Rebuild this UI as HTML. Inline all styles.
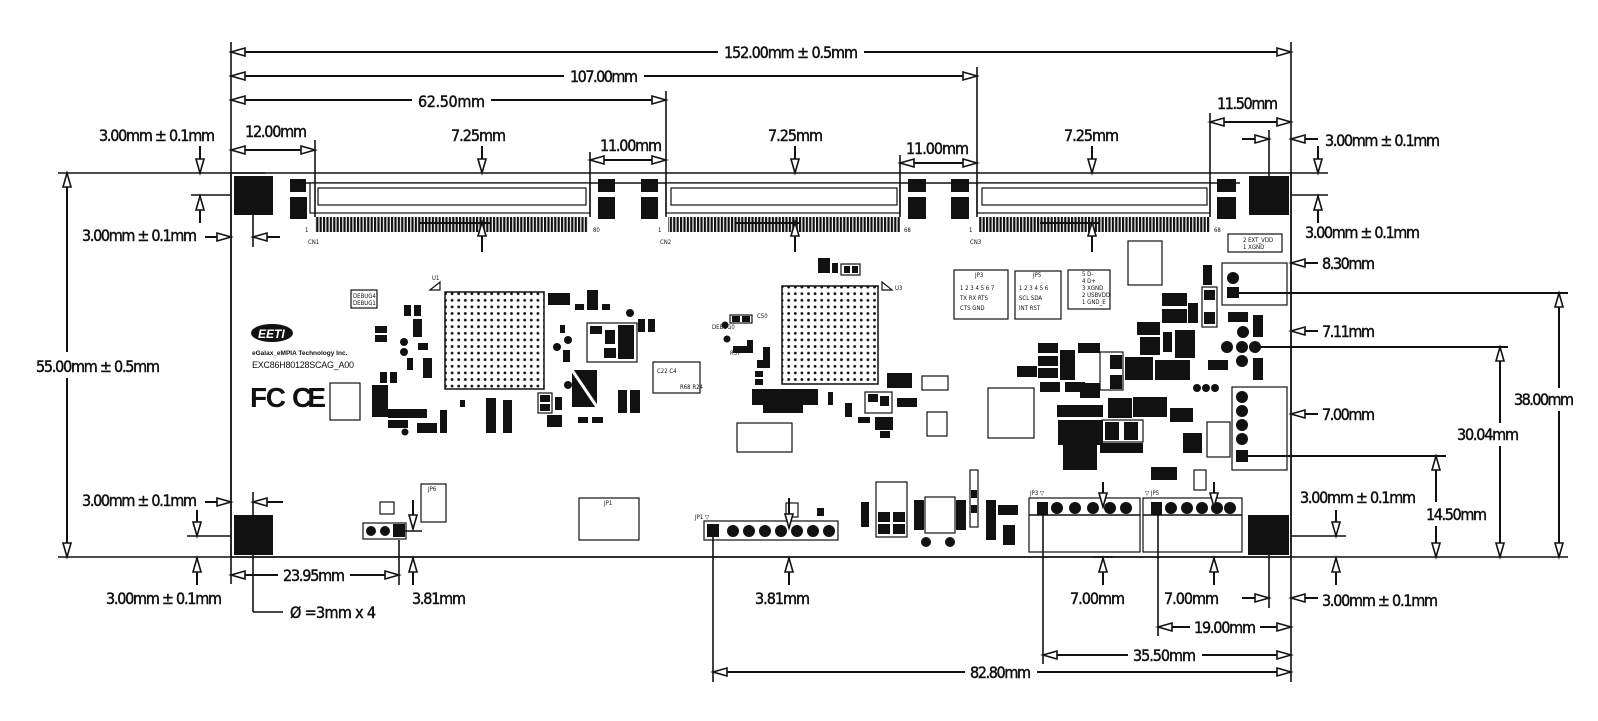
<!DOCTYPE html>
<html><head><meta charset="utf-8"><style>
html,body{margin:0;padding:0;background:#fff;}
svg{display:block;}
.d{font-family:"DejaVu Sans Condensed","Liberation Sans",sans-serif;font-size:16px;fill:#111;stroke:#111;stroke-width:0.45;}
.s{font-family:"DejaVu Sans Condensed","Liberation Sans",sans-serif;font-size:6px;fill:#111;}
.ln{stroke:#111;stroke-width:2;fill:none;}
.ex{stroke:#111;stroke-width:1.6;fill:none;}
.o{stroke:#111;stroke-width:1.2;fill:#fff;}
.ob{stroke:#111;stroke-width:1.2;fill:none;}
.a{marker-end:url(#ar);}
.aa{marker-start:url(#ar);marker-end:url(#ar);}
.as{marker-start:url(#ar);}
</style></head><body>
<svg width="1598" height="721" viewBox="0 0 1598 721" xmlns="http://www.w3.org/2000/svg">
<defs>
<marker id="ar" markerUnits="userSpaceOnUse" markerWidth="16" markerHeight="10" refX="15" refY="5" orient="auto-start-reverse" overflow="visible">
<path d="M1,1 L15,5 L1,9 Z" fill="#fff" stroke="#111" stroke-width="1.6"/>
</marker>
<pattern id="bga" width="6.6" height="6.6" patternUnits="userSpaceOnUse"><circle cx="3.3" cy="3.3" r="1.4" fill="#111"/></pattern>
<pattern id="comb" width="3.4" height="20" patternUnits="userSpaceOnUse"><rect x="0" y="0" width="2.2" height="20" fill="#111"/></pattern>
</defs>
<rect width="1598" height="721" fill="#fff"/>

<rect x="231" y="173" width="1060" height="384" fill="none" stroke="#111" stroke-width="1.5"/>
<line class="ex" x1="231" y1="42" x2="231" y2="584"/>
<line class="ex" x1="1291" y1="42" x2="1291" y2="682"/>
<line class="ex" x1="58" y1="173" x2="265" y2="173"/>
<line class="ex" x1="58" y1="557" x2="1568" y2="557"/>

<rect x="234" y="176" width="39" height="39" fill="#111"/>
<rect x="1249" y="176" width="40" height="39" fill="#111"/>
<rect x="234" y="515" width="39" height="40" fill="#111"/>
<rect x="1248" y="515" width="41" height="40" fill="#111"/>

<g>
<line class="ex" x1="290" y1="183" x2="1240" y2="183" stroke-width="1"/>
<rect x="310" y="183" width="280" height="30" class="o"/>
<rect x="318" y="188" width="268" height="17" class="o"/>
<rect x="315" y="217" width="273" height="15" fill="url(#comb)"/>
<rect x="666" y="183" width="234" height="30" class="o"/>
<rect x="671" y="188" width="226" height="17" class="o"/>
<rect x="668" y="217" width="232" height="15" fill="url(#comb)"/>
<rect x="977" y="183" width="233" height="30" class="o"/>
<rect x="982" y="188" width="225" height="17" class="o"/>
<rect x="979" y="217" width="231" height="15" fill="url(#comb)"/>
<line x1="420" y1="223" x2="490" y2="223" stroke="#111" stroke-width="2"/>
<line x1="735" y1="223" x2="800" y2="223" stroke="#111" stroke-width="2"/>
<line x1="1040" y1="223" x2="1100" y2="223" stroke="#111" stroke-width="2"/>
<rect x="290" y="179" width="16" height="13" fill="#111"/><rect x="290" y="197" width="17" height="22" fill="#111"/>
<rect x="598" y="179" width="17" height="13" fill="#111"/><rect x="598" y="197" width="17" height="22" fill="#111"/>
<rect x="641" y="179" width="17" height="13" fill="#111"/><rect x="641" y="197" width="17" height="22" fill="#111"/>
<rect x="908" y="179" width="18" height="13" fill="#111"/><rect x="908" y="197" width="18" height="22" fill="#111"/>
<rect x="951" y="179" width="18" height="13" fill="#111"/><rect x="951" y="197" width="18" height="22" fill="#111"/>
<rect x="1217" y="179" width="19" height="13" fill="#111"/><rect x="1217" y="197" width="19" height="22" fill="#111"/>
<text class="s" x="305" y="232">1</text><text class="s" x="593" y="232">80</text><text class="s" x="308" y="244">CN1</text>
<text class="s" x="658" y="232">1</text><text class="s" x="904" y="232">68</text><text class="s" x="660" y="244">CN2</text>
<text class="s" x="969" y="232">1</text><text class="s" x="1214" y="232">68</text><text class="s" x="970" y="244">CN3</text>
</g>

<rect x="445" y="292" width="99" height="97" fill="url(#bga)" stroke="#111" stroke-width="1.5"/>
<rect x="782" y="286" width="96" height="98" fill="url(#bga)" stroke="#111" stroke-width="1.5"/>
<path d="M430,290 L440,282 L440,290 Z" class="ob"/>
<path d="M882,282 L892,290 L882,290 Z" class="ob"/>
<text class="s" x="432" y="280">U1</text><text class="s" x="895" y="290">U3</text>

<ellipse cx="272" cy="333" rx="21" ry="9" fill="#111"/>
<text x="258" y="338" font-family="Liberation Sans" font-weight="bold" font-style="italic" font-size="12" fill="#fff">EETI</text>
<text x="252" y="355" font-family="Liberation Sans" font-weight="bold" font-size="6.5" fill="#111">eGalax_eMPIA Technology Inc.</text>
<text x="252" y="368" font-family="Liberation Sans" font-size="9" fill="#111" textLength="102">EXC86H80128SCAG_A00</text>
<text x="250" y="407" font-family="Liberation Sans" font-weight="bold" font-size="28" fill="#111" textLength="36">FC</text>
<text x="292" y="407" font-family="Liberation Sans" font-weight="bold" font-size="28" fill="#111" textLength="34">CE</text>

<g fill="#111">
<rect x="351" y="290" width="26" height="18" class="o"/>
<text class="s" x="353" y="298">DEBUG4</text><text class="s" x="353" y="305">DEBUG1</text>
<rect x="404" y="305" width="7" height="11"/><rect x="414" y="305" width="7" height="11"/>
<rect x="413" y="319" width="9" height="18"/>
<rect x="375" y="326" width="12" height="7"/><rect x="375" y="335" width="12" height="7"/>
<circle cx="404" cy="342" r="4"/><circle cx="404" cy="352" r="4"/>
<rect x="407" y="358" width="6" height="12"/><rect x="423" y="358" width="9" height="20"/>
<rect x="418" y="343" width="10" height="7"/>
<rect x="380" y="372" width="7" height="11"/><rect x="390" y="372" width="7" height="11"/>
<rect x="372" y="385" width="16" height="32"/>
<rect x="388" y="409" width="39" height="9"/><rect x="388" y="420" width="20" height="8"/>
<circle cx="405" cy="432" r="3.5"/>
<rect x="417" y="423" width="20" height="10"/><rect x="440" y="410" width="7" height="23"/>
<rect x="460" y="400" width="5" height="7"/>
<rect x="330" y="383" width="30" height="37" class="ob"/>
<rect x="486" y="398" width="10" height="35"/><rect x="503" y="400" width="9" height="33"/>
<rect x="538" y="393" width="14" height="20" class="o"/><rect x="540" y="395" width="10" height="7"/><rect x="540" y="404" width="10" height="7"/>
<rect x="547" y="415" width="15" height="12"/><rect x="555" y="397" width="7" height="13"/>
<rect x="572" y="370" width="25" height="37"/><path d="M572,370 L597,407" stroke="#fff" stroke-width="3"/>
<circle cx="568" cy="385" r="4"/>
<rect x="578" y="417" width="10" height="6"/><rect x="592" y="417" width="11" height="6"/>
<rect x="618" y="390" width="9" height="23"/><rect x="630" y="390" width="10" height="23"/>
<rect x="548" y="293" width="22" height="12"/>
<rect x="587" y="290" width="11" height="20"/>
<rect x="575" y="304" width="9" height="6"/><rect x="602" y="304" width="8" height="6"/>
<rect x="638" y="319" width="7" height="13"/><rect x="648" y="319" width="7" height="13"/>
<rect x="587" y="323" width="50" height="39" class="o"/>
<rect x="590" y="326" width="12" height="8"/><rect x="605" y="330" width="10" height="14"/><rect x="618" y="325" width="16" height="34"/><rect x="604" y="348" width="12" height="10"/>
<circle cx="630" cy="313" r="4"/><circle cx="568" cy="340" r="4"/><circle cx="557" cy="347" r="4"/>
<rect x="560" y="325" width="5" height="8"/><rect x="563" y="350" width="7" height="12"/>
<rect x="653" y="362" width="47" height="31" class="ob"/>
<text class="s" x="657" y="373">C22 C4</text><text class="s" x="680" y="389">R68 R24</text>
</g>

<g fill="#111">
<rect x="818" y="258" width="12" height="15"/><rect x="832" y="263" width="6" height="10"/>
<rect x="841" y="264" width="19" height="11" class="o"/><rect x="844" y="266" width="6" height="7"/><rect x="852" y="266" width="6" height="7"/>
<rect x="730" y="315" width="22" height="8" class="o"/><rect x="732" y="316" width="8" height="6"/><rect x="742" y="316" width="8" height="6"/>
<circle cx="725" cy="325" r="3.5"/><circle cx="727" cy="339" r="3.5"/>
<rect x="733" y="346" width="14" height="7"/><rect x="747" y="340" width="6" height="13"/>
<rect x="763" y="347" width="7" height="21"/><rect x="757" y="360" width="8" height="8"/>
<rect x="755" y="371" width="8" height="6"/><rect x="755" y="379" width="8" height="6"/>
<rect x="752" y="389" width="66" height="16"/>
<rect x="763" y="405" width="40" height="8"/>
<rect x="737" y="423" width="55" height="29" class="ob"/>
<rect x="828" y="392" width="5" height="13"/><rect x="845" y="403" width="7" height="14"/>
<rect x="887" y="373" width="25" height="15"/><rect x="922" y="376" width="26" height="14" class="ob"/>
<rect x="865" y="392" width="27" height="21" class="ob"/><rect x="868" y="394" width="10" height="8"/><rect x="880" y="396" width="9" height="10"/>
<rect x="897" y="398" width="20" height="9"/>
<rect x="858" y="417" width="12" height="6"/><rect x="875" y="417" width="18" height="13"/><rect x="880" y="431" width="10" height="7"/>
<rect x="927" y="412" width="20" height="24" class="ob"/>
<text class="s" x="730" y="355">R57</text><text class="s" x="757" y="318">C50</text><text class="s" x="712" y="329">DEBUG0</text>
</g>

<g fill="#111">
<rect x="954" y="270" width="54" height="49" class="ob"/><text class="s" x="975" y="277">JP3</text>
<text class="s" x="960" y="290">1 2 3 4 5 6 7</text><text class="s" x="960" y="300">TX RX RTS</text><text class="s" x="960" y="310">CTS GND</text>
<rect x="1015" y="271" width="46" height="48" class="ob"/><text class="s" x="1033" y="277">JP5</text>
<text class="s" x="1019" y="290">1 2 3 4 5 6</text><text class="s" x="1019" y="300">SCL SDA</text><text class="s" x="1019" y="310">INT RST</text>
<rect x="1068" y="270" width="42" height="39" class="ob"/>
<text class="s" x="1082" y="276">5 D-</text><text class="s" x="1082" y="283">4 D+</text><text class="s" x="1082" y="290">3 XGND</text><text class="s" x="1082" y="297">2 USBVDD</text><text class="s" x="1082" y="304">1 GND_E</text>
<rect x="1128" y="241" width="34" height="44" class="ob"/>
<rect x="1228" y="234" width="54" height="18" class="o"/><text class="s" x="1243" y="242">2 EXT_VDD</text><text class="s" x="1243" y="249">1 XGND</text>
<rect x="1222" y="263" width="65" height="42" class="ob"/>
<circle cx="1233" cy="278" r="6"/><rect x="1227" y="287" width="12" height="11"/>
<line class="ln" x1="1238" y1="293" x2="1568" y2="293"/>
<rect x="1162" y="293" width="25" height="13"/><rect x="1162" y="309" width="25" height="14"/>
<rect x="1188" y="303" width="10" height="20"/>
<rect x="1202" y="287" width="15" height="40" class="ob"/><rect x="1204" y="290" width="11" height="10"/><rect x="1204" y="312" width="11" height="12"/>
<rect x="1203" y="265" width="9" height="20"/>
<rect x="1137" y="322" width="23" height="13"/><rect x="1140" y="337" width="20" height="18"/>
<rect x="1163" y="332" width="9" height="20"/><rect x="1175" y="330" width="20" height="28"/>
<circle cx="1243" cy="332" r="6"/><circle cx="1227" cy="347" r="6"/><circle cx="1242" cy="347" r="6"/><circle cx="1255" cy="347" r="6"/><circle cx="1242" cy="361" r="6"/>
<rect x="1228" y="312" width="20" height="10"/><rect x="1253" y="315" width="10" height="22"/><rect x="1253" y="358" width="10" height="22"/>
<rect x="1208" y="360" width="20" height="10"/>
<rect x="1017" y="366" width="20" height="11"/>
<rect x="1038" y="343" width="20" height="10"/><rect x="1038" y="356" width="20" height="10"/><rect x="1038" y="368" width="20" height="10"/>
<rect x="1060" y="350" width="15" height="30"/><rect x="1078" y="343" width="22" height="10"/>
<rect x="1040" y="382" width="20" height="10"/><rect x="1065" y="382" width="20" height="10"/>
<rect x="1080" y="383" width="20" height="15"/>
<rect x="1100" y="352" width="23" height="38" class="ob"/><rect x="1110" y="355" width="12" height="14"/><rect x="1110" y="375" width="12" height="14"/>
<rect x="1125" y="357" width="28" height="23"/><rect x="1155" y="360" width="35" height="20"/>
<rect x="1057" y="405" width="46" height="12"/>
<rect x="1058" y="420" width="45" height="25"/>
<rect x="1108" y="398" width="24" height="20"/><rect x="1133" y="397" width="34" height="20"/>
<rect x="1102" y="420" width="41" height="22" class="ob"/><rect x="1105" y="422" width="14" height="18"/><rect x="1124" y="422" width="14" height="18"/>
<rect x="1063" y="443" width="34" height="27"/><rect x="1100" y="443" width="43" height="10"/>
<circle cx="1197" cy="388" r="4"/><circle cx="1206" cy="388" r="4"/><circle cx="1215" cy="388" r="4"/>
<rect x="1170" y="408" width="23" height="14"/><rect x="1183" y="433" width="19" height="20"/>
<rect x="1151" y="467" width="26" height="13"/>
<rect x="1194" y="470" width="12" height="20" class="ob"/>
<rect x="988" y="388" width="46" height="50" class="ob"/>
<rect x="1232" y="387" width="55" height="83" class="ob"/>
<circle cx="1242" cy="397" r="6"/><circle cx="1242" cy="411" r="6"/><circle cx="1242" cy="425" r="6"/><circle cx="1242" cy="439" r="6"/>
<rect x="1236" y="450" width="12" height="12"/>
<rect x="1207" y="422" width="23" height="35" class="ob"/>
<line class="ln" x1="1250" y1="347" x2="1508" y2="347"/>
<line class="ln" x1="1248" y1="456" x2="1446" y2="456"/>
</g>

<g fill="#111">
<rect x="363" y="523" width="43" height="16" class="ob"/>
<circle cx="371" cy="531" r="5"/><circle cx="385" cy="531" r="5"/><rect x="393" y="524" width="12" height="13"/>
<rect x="380" y="502" width="14" height="12" class="ob"/>
<rect x="421" y="484" width="25" height="38" class="ob"/><text class="s" x="428" y="491">JP6</text>
<rect x="579" y="498" width="60" height="42" class="ob"/><text class="s" x="604" y="505">JP1</text>
<rect x="704" y="521" width="134" height="19" class="ob"/>
<rect x="707" y="524" width="12" height="13"/>
<circle cx="733" cy="531" r="6"/><circle cx="749" cy="531" r="6"/><circle cx="765" cy="531" r="6"/><circle cx="781" cy="531" r="6"/><circle cx="797" cy="531" r="6"/><circle cx="813" cy="531" r="6"/><circle cx="829" cy="531" r="6"/>
<rect x="786" y="503" width="12" height="14" class="ob"/>
<rect x="817" y="508" width="7" height="8"/>
<rect x="876" y="482" width="31" height="55" class="ob"/>
<rect x="878" y="512" width="12" height="10"/><rect x="893" y="512" width="12" height="10"/><rect x="878" y="524" width="12" height="10"/><rect x="893" y="524" width="12" height="10"/>
<rect x="861" y="502" width="8" height="25"/>
<rect x="925" y="497" width="30" height="36" class="ob"/>
<rect x="914" y="500" width="10" height="30"/><rect x="956" y="500" width="10" height="30"/>
<circle cx="926" cy="542" r="5"/><circle cx="950" cy="542" r="5"/>
<rect x="970" y="470" width="8" height="57" class="ob"/><rect x="971" y="490" width="6" height="8"/><rect x="971" y="505" width="6" height="8"/>
<rect x="986" y="500" width="10" height="40"/><rect x="998" y="505" width="20" height="10"/><rect x="1003" y="525" width="12" height="20"/>
<rect x="1029" y="498" width="111" height="54" class="ob"/>
<line class="ex" x1="1029" y1="515" x2="1140" y2="515" stroke-width="1"/>
<rect x="1037" y="502" width="11" height="13"/>
<circle cx="1057" cy="508" r="6"/><circle cx="1075" cy="508" r="6"/><circle cx="1093" cy="508" r="6"/><circle cx="1110" cy="508" r="6"/><circle cx="1126" cy="508" r="6"/>
<rect x="1143" y="498" width="99" height="54" class="ob"/>
<line class="ex" x1="1143" y1="515" x2="1242" y2="515" stroke-width="1"/>
<rect x="1151" y="502" width="11" height="13"/>
<circle cx="1171" cy="508" r="6"/><circle cx="1187" cy="508" r="6"/><circle cx="1202" cy="508" r="6"/><circle cx="1217" cy="508" r="6"/><circle cx="1230" cy="508" r="6"/>
<text class="s" x="1030" y="495">JP3 ▽</text><text class="s" x="1145" y="495">▽ JP5</text><text class="s" x="695" y="519">JP1 ▽</text>
</g>

<g>
<line class="ln as" x1="231" y1="52" x2="718" y2="52"/><line class="ln a" x1="864" y1="52" x2="1291" y2="52"/>
<text class="d" x="724" y="58" textLength="134">152.00mm ± 0.5mm</text>
<line class="ex" x1="977" y1="67" x2="977" y2="217"/>
<line class="ln as" x1="231" y1="76" x2="564" y2="76"/><line class="ln a" x1="644" y1="76" x2="977" y2="76"/>
<text class="d" x="570" y="82" textLength="68">107.00mm</text>
<line class="ex" x1="666" y1="91" x2="666" y2="217"/>
<line class="ln as" x1="231" y1="100" x2="412" y2="100"/><line class="ln a" x1="491" y1="100" x2="666" y2="100"/>
<text class="d" x="418" y="107" textLength="67">62.50mm</text>
<line class="ex" x1="315" y1="140" x2="315" y2="217"/>
<line class="ln aa" x1="231" y1="150" x2="315" y2="150"/>
<text class="d" x="245" y="137" textLength="62">12.00mm</text>
<line class="ex" x1="590" y1="152" x2="590" y2="217"/>
<line class="ln aa" x1="590" y1="160" x2="666" y2="160"/>
<text class="d" x="600" y="151" textLength="62">11.00mm</text>
<line class="ex" x1="900" y1="155" x2="900" y2="217"/>
<line class="ln aa" x1="900" y1="163" x2="977" y2="163"/>
<text class="d" x="906" y="154" textLength="63">11.00mm</text>
<line class="ex" x1="1210" y1="113" x2="1210" y2="217"/>
<line class="ln aa" x1="1210" y1="122" x2="1291" y2="122"/>
<text class="d" x="1217" y="109" textLength="61">11.50mm</text>
<text class="d" x="451" y="141" textLength="55">7.25mm</text>
<text class="d" x="768" y="141" textLength="55">7.25mm</text>
<text class="d" x="1064" y="141" textLength="55">7.25mm</text>
<line class="ln a" x1="482" y1="146" x2="482" y2="173"/><line class="ln a" x1="795" y1="146" x2="795" y2="173"/><line class="ln a" x1="1092" y1="146" x2="1092" y2="173"/>
<line class="ln a" x1="482" y1="252" x2="482" y2="222"/><line class="ln a" x1="795" y1="252" x2="795" y2="222"/><line class="ln a" x1="1092" y1="252" x2="1092" y2="222"/>
<text class="d" x="99" y="141" textLength="116">3.00mm ± 0.1mm</text>
<line class="ln a" x1="200" y1="146" x2="200" y2="173"/>
<line class="ex" x1="191" y1="195" x2="231" y2="195"/>
<line class="ln a" x1="200" y1="223" x2="200" y2="196"/>
<text class="d" x="82" y="241" textLength="115">3.00mm ± 0.1mm</text>
<line class="ln a" x1="205" y1="237" x2="231" y2="237"/>
<line class="ln a" x1="280" y1="237" x2="253" y2="237"/>
<line class="ex" x1="253" y1="215" x2="253" y2="247"/>
<line class="ex" x1="1269" y1="130" x2="1269" y2="176"/>
<line class="ln a" x1="1242" y1="139" x2="1269" y2="139"/>
<line class="ln a" x1="1318" y1="139" x2="1291" y2="139"/>
<text class="d" x="1325" y="146" textLength="115">3.00mm ± 0.1mm</text>
<line class="ln a" x1="1318" y1="146" x2="1318" y2="173"/>
<line class="ex" x1="1291" y1="173" x2="1328" y2="173"/>
<line class="ex" x1="1291" y1="195" x2="1328" y2="195"/>
<line class="ln a" x1="1318" y1="223" x2="1318" y2="196"/>
<text class="d" x="1305" y="238" textLength="115">3.00mm ± 0.1mm</text>
<line class="ln a" x1="1318" y1="263" x2="1291" y2="263"/><text class="d" x="1322" y="269" textLength="53">8.30mm</text>
<line class="ln a" x1="1318" y1="331" x2="1291" y2="331"/><text class="d" x="1322" y="337" textLength="53">7.11mm</text>
<line class="ln a" x1="1318" y1="414" x2="1291" y2="414"/><text class="d" x="1322" y="420" textLength="53">7.00mm</text>
<line class="ln as" x1="1559" y1="293" x2="1559" y2="388"/><line class="ln a" x1="1559" y1="411" x2="1559" y2="557"/>
<text class="d" x="1514" y="405" textLength="60">38.00mm</text>
<line class="ln as" x1="1500" y1="347" x2="1500" y2="423"/><line class="ln a" x1="1500" y1="446" x2="1500" y2="557"/>
<text class="d" x="1457" y="440" textLength="62">30.04mm</text>
<line class="ln as" x1="1436" y1="456" x2="1436" y2="502"/><line class="ln a" x1="1436" y1="526" x2="1436" y2="557"/>
<text class="d" x="1426" y="520" textLength="61">14.50mm</text>
<text class="d" x="1300" y="503" textLength="116">3.00mm ± 0.1mm</text>
<line class="ln a" x1="1336" y1="510" x2="1336" y2="536"/>
<line class="ex" x1="1291" y1="536" x2="1346" y2="536"/>
<line class="ln a" x1="1336" y1="585" x2="1336" y2="558"/>
<line class="ex" x1="1269" y1="555" x2="1269" y2="608"/>
<line class="ln a" x1="1242" y1="598" x2="1269" y2="598"/>
<line class="ln a" x1="1318" y1="598" x2="1291" y2="598"/>
<text class="d" x="1322" y="606" textLength="116">3.00mm ± 0.1mm</text>
<line class="ex" x1="1158" y1="510" x2="1158" y2="636"/>
<line class="ln as" x1="1158" y1="627" x2="1190" y2="627"/><line class="ln a" x1="1260" y1="627" x2="1291" y2="627"/>
<text class="d" x="1194" y="633" textLength="62">19.00mm</text>
<line class="ex" x1="1043" y1="510" x2="1043" y2="664"/>
<line class="ln as" x1="1043" y1="655" x2="1128" y2="655"/><line class="ln a" x1="1202" y1="655" x2="1291" y2="655"/>
<text class="d" x="1133" y="661" textLength="63">35.50mm</text>
<line class="ex" x1="713" y1="535" x2="713" y2="682"/>
<line class="ln as" x1="713" y1="672" x2="965" y2="672"/><line class="ln a" x1="1037" y1="672" x2="1291" y2="672"/>
<text class="d" x="970" y="678" textLength="61">82.80mm</text>
<line class="ln a" x1="1103" y1="482" x2="1103" y2="507"/><line class="ln a" x1="1214" y1="482" x2="1214" y2="507"/>
<line class="ex" x1="1093" y1="557" x2="1113" y2="557"/>
<line class="ln a" x1="1103" y1="585" x2="1103" y2="558"/><line class="ln a" x1="1214" y1="585" x2="1214" y2="558"/>
<text class="d" x="1070" y="604" textLength="55">7.00mm</text>
<text class="d" x="1164" y="604" textLength="55">7.00mm</text>
<line class="ex" x1="399" y1="540" x2="399" y2="585"/>
<line class="ln a" x1="413" y1="500" x2="413" y2="529"/>
<line class="ex" x1="400" y1="531" x2="422" y2="531"/>
<line class="ln a" x1="413" y1="585" x2="413" y2="558"/>
<text class="d" x="412" y="604" textLength="54">3.81mm</text>
<line class="ln a" x1="789" y1="498" x2="789" y2="528"/>
<line class="ln a" x1="789" y1="585" x2="789" y2="558"/>
<text class="d" x="755" y="604" textLength="55">3.81mm</text>
<line class="ln as" x1="231" y1="575" x2="278" y2="575"/><line class="ln a" x1="350" y1="575" x2="399" y2="575"/>
<text class="d" x="283" y="581" textLength="62">23.95mm</text>
<text class="d" x="82" y="506" textLength="115">3.00mm ± 0.1mm</text>
<line class="ln a" x1="205" y1="502" x2="231" y2="502"/>
<line class="ln a" x1="283" y1="502" x2="253" y2="502"/>
<line class="ex" x1="253" y1="492" x2="253" y2="612"/>
<line class="ex" x1="253" y1="612" x2="283" y2="612"/>
<line class="ex" x1="187" y1="536" x2="231" y2="536"/>
<line class="ln a" x1="197" y1="510" x2="197" y2="536"/>
<line class="ln a" x1="197" y1="585" x2="197" y2="558"/>
<text class="d" x="106" y="604" textLength="116">3.00mm ± 0.1mm</text>
<text class="d" x="290" y="618" textLength="86">Ø =3mm x 4</text>
<line class="ln as" x1="67" y1="173" x2="67" y2="352"/><line class="ln a" x1="67" y1="378" x2="67" y2="557"/>
<text class="d" x="36" y="372" textLength="124">55.00mm ± 0.5mm</text>
</g>
</svg>
</body></html>
